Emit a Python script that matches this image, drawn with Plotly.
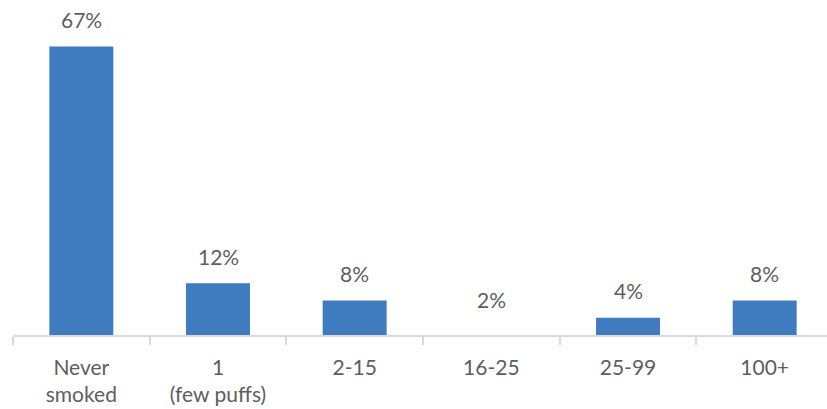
import plotly.graph_objects as go

# Number of cigarettes smoked in lifetime (share of respondents, %)
categories = ["Never<br>smoked", "1<br>(few puffs)", "2-15", "16-25", "25-99", "100+"]
shares = [67, 12, 8, 2, 4, 8]
value_labels = ["67%", "12%", "8%", "2%", "4%", "8%"]

BAR_BLUE = "#3E7CBF"
TEXT_GREY = "#5E5E5E"
AXIS_GREY = "#D9D9D9"
FONT = "Lato"

# the 16-25 group is labelled but its bar is not filled
bar_colors = [BAR_BLUE if c != "16-25" else "rgba(0,0,0,0)" for c in categories]

fig = go.Figure()
fig.add_trace(go.Bar(
    x=categories,
    y=shares,
    marker=dict(color=bar_colors, line=dict(width=0)),
    hoverinfo="skip",
))

for cat, val, lab in zip(categories, shares, value_labels):
    fig.add_annotation(
        x=cat, y=val, text=lab, showarrow=False,
        yanchor="middle", yshift=27,
        font=dict(family=FONT, size=21, color=TEXT_GREY),
    )

fig.update_layout(
    width=827, height=409,
    margin=dict(l=13, r=0, t=0, b=74),
    paper_bgcolor="white", plot_bgcolor="white",
    bargap=0.532,
    showlegend=False,
    font=dict(family=FONT, size=21, color=TEXT_GREY),
)
fig.update_xaxes(
    type="category",
    range=[-0.5, 5.456],
    tickson="boundaries",
    ticks="outside", ticklen=8, tickcolor=AXIS_GREY, tickwidth=1.5,
    showline=True, linecolor=AXIS_GREY, linewidth=1.5,
    showgrid=False, zeroline=False,
    tickfont=dict(family=FONT, size=21, color=TEXT_GREY),
    ticklabelstandoff=13,
)
fig.update_yaxes(
    range=[0, 77.8],
    visible=False, showgrid=False, zeroline=False,
)

fig.write_html("out.html")
